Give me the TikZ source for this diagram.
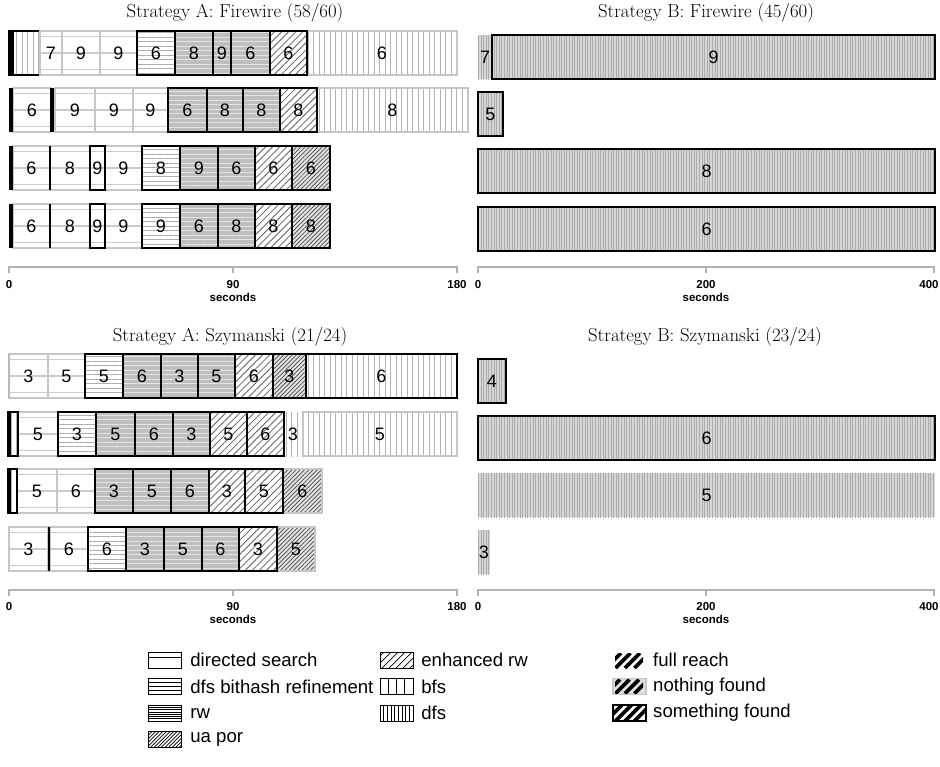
\documentclass[tikz,border=0pt]{standalone}
\usepackage{fontspec}
\newfontfamily\hsans{Liberation Sans}
\usetikzlibrary{patterns,patterns.meta,calc}
\newcounter{cellno}
\tikzset{
  lab/.style={font=\hsans\fontsize{18}{18}\selectfont, inner sep=0pt},
  ttl/.style={font=\fontsize{18.8}{21}\selectfont, inner sep=0pt},
  tick/.style={font=\hsans\bfseries\fontsize{11.5}{12}\selectfont, inner sep=0pt},
  legtext/.style={font=\hsans\fontsize{18.6}{19}\selectfont, inner sep=0pt, anchor=west},
  axisline/.style={draw=gray!60, line width=1.2pt},
  nf/.style={draw=gray!45, line width=2pt},
  sf/.style={draw=black, line width=2pt},
  fr/.style={draw=none},
  ds/.style={fill=white, path picture={\foreach \f in {0.13,0.5,0.87} \draw[gray!40,line width=1.4pt] ($(path picture bounding box.south west)!\f!(path picture bounding box.north west)$) -- ($(path picture bounding box.south east)!\f!(path picture bounding box.north east)$);}},
  dbr/.style={fill=white, postaction={pattern={Lines[angle=0,distance=4.5pt,line width=0.9pt]}, pattern color=gray!65}},
  rw/.style={fill=gray!50, postaction={pattern={Lines[angle=0,distance=4.5pt,line width=0.8pt]}, pattern color=gray!20}},
  enh/.style={fill=white, postaction={pattern={Lines[angle=45,distance=5pt,line width=0.8pt]}, pattern color=gray!75!black}},
  ua/.style={fill=gray!22, postaction={pattern={Lines[angle=45,distance=3pt,line width=0.7pt]}, pattern color=gray!55!black}},
  bfs/.style={fill=white, postaction={pattern={Lines[angle=90,distance=5.5pt,line width=1pt]}, pattern color=gray!60}},
  dfs/.style={fill=gray!32, postaction={pattern={Lines[angle=90,distance=2.6pt,line width=0.8pt]}, pattern color=gray!65}},
}
% x1, x2, ytop, pattern, label, border
\newcommand\bcell[6]{%
  \path[#4] (#1,#3) rectangle (#2,#3+44);
  \path[#6] (#1,#3) rectangle (#2,#3+44);
  \stepcounter{cellno}%
  \node[lab] (c\arabic{cellno}) at ({(#1+#2)/2},#3+22) {#5};}
\newcommand\blk[3]{\fill[black] (#1,#3) rectangle (#2,#3+44);}
\begin{document}
\begin{tikzpicture}[x=1pt,y=-1pt]
\useasboundingbox (0,0) rectangle (940,766);
% titles
\node[ttl] (t1) at (235,13) {Strategy A: Firewire (58/60)};
\node[ttl] (t2) at (706,13) {Strategy B: Firewire (45/60)};
\node[ttl] (t3) at (230,337) {Strategy A: Szymanski (21/24)};
\node[ttl] (t4) at (705,337) {Strategy B: Szymanski (23/24)};

% ---------- Strategy A Firewire ----------
% row 1
\bcell{9}{40}{31}{bfs}{}{sf}
\blk{9}{14}{31}
\bcell{40}{62}{31}{ds}{7}{nf}
\bcell{62}{100}{31}{ds}{9}{nf}
\bcell{100}{137}{31}{ds}{9}{nf}
\bcell{137}{175}{31}{dbr}{6}{sf}
\bcell{175}{213}{31}{rw}{8}{sf}
\bcell{213}{231}{31}{rw}{9}{sf}
\bcell{231}{270}{31}{rw}{6}{sf}
\bcell{307}{457}{31}{bfs}{6}{nf}
\bcell{270}{307}{31}{enh}{6}{sf}
% row 2
\bcell{13}{51}{88}{ds}{6}{nf}
\blk{9}{13}{88}
\blk{50}{55}{88}
\bcell{55}{95}{88}{ds}{9}{nf}
\bcell{95}{133}{88}{ds}{9}{nf}
\bcell{133}{168}{88}{ds}{9}{nf}
\bcell{168}{207}{88}{rw}{6}{sf}
\bcell{207}{243}{88}{rw}{8}{sf}
\bcell{243}{280}{88}{rw}{8}{sf}
\bcell{317}{468}{88}{bfs}{8}{nf}
\bcell{280}{317}{88}{enh}{8}{sf}
% row 3
\bcell{13}{50}{146}{ds}{6}{nf}
\bcell{50}{90}{146}{ds}{8}{nf}
\blk{9}{13}{146}
\blk{49}{51}{146}
\bcell{105}{142}{146}{ds}{9}{nf}
\bcell{90}{105}{146}{ds}{9}{sf}
\bcell{142}{180}{146}{dbr}{8}{sf}
\bcell{180}{218}{146}{rw}{9}{sf}
\bcell{218}{255}{146}{rw}{6}{sf}
\bcell{255}{292}{146}{enh}{6}{sf}
\bcell{292}{330}{146}{ua}{6}{sf}
% row 4
\bcell{13}{50}{204}{ds}{6}{nf}
\bcell{50}{90}{204}{ds}{8}{nf}
\blk{9}{13}{204}
\blk{49}{51}{204}
\bcell{105}{142}{204}{ds}{9}{nf}
\bcell{90}{105}{204}{ds}{9}{sf}
\bcell{142}{180}{204}{dbr}{9}{sf}
\bcell{180}{218}{204}{rw}{6}{sf}
\bcell{218}{255}{204}{rw}{8}{sf}
\bcell{255}{292}{204}{enh}{8}{sf}
\bcell{292}{330}{204}{ua}{8}{sf}

% ---------- Strategy B Firewire ----------
\bcell{478}{492}{35}{dfs}{7}{fr}
\bcell{492}{935}{35}{dfs}{9}{sf}
\bcell{478}{503}{92}{dfs}{5}{sf}
\bcell{478}{935}{149}{dfs}{8}{sf}
\bcell{478}{935}{207}{dfs}{6}{sf}

% axes top
\draw[axisline] (9,273) coordinate (a0) -- (9,267) -- (457,267) -- (457,273) coordinate (a2);
\draw[axisline] (233,267) -- (233,273) coordinate (a1);
\node[tick] (l0) at (9,285) {0};
\node[tick] (l90) at (233,285) {90};
\node[tick] (l180) at (457,285) {180};
\node[tick] (ls1) at (233,297) {seconds};
\draw[axisline] (478,273) -- (478,267) -- (934,267) -- (934,273);
\draw[axisline] (706,267) -- (706,273);
\node[tick] (r0) at (478,285) {0};
\node[tick] (r200) at (706,285) {200};
\node[tick] (r400) at (929,285) {400};
\node[tick] (ls2) at (706,297) {seconds};

% ---------- Strategy A Szymanski ----------
% row 1
\bcell{9}{48}{354}{ds}{3}{nf}
\bcell{48}{85}{354}{ds}{5}{nf}
\fill[gray!55] (8,354) rectangle (10,398);
\bcell{85}{123}{354}{dbr}{5}{sf}
\bcell{123}{161}{354}{rw}{6}{sf}
\bcell{161}{198}{354}{rw}{3}{sf}
\bcell{198}{235}{354}{rw}{5}{sf}
\bcell{235}{273}{354}{enh}{6}{sf}
\bcell{273}{306}{354}{ua}{3}{sf}
\bcell{306}{457}{354}{bfs}{6}{sf}
% row 2
\bcell{18}{58}{412}{ds}{5}{nf}
\bcell{8}{18}{412}{bfs}{}{sf}
\blk{8}{11}{412}
\bcell{58}{96}{412}{dbr}{3}{sf}
\bcell{96}{135}{412}{rw}{5}{sf}
\bcell{135}{173}{412}{rw}{6}{sf}
\bcell{173}{210}{412}{rw}{3}{sf}
\bcell{210}{247}{412}{enh}{5}{sf}
\bcell{247}{284}{412}{enh}{6}{sf}
\bcell{285}{301}{412}{bfs}{3}{fr}
\bcell{303}{457}{412}{bfs}{5}{nf}
% row 3
\bcell{17}{57}{469}{ds}{5}{nf}
\bcell{57}{95}{469}{ds}{6}{nf}
\bcell{8}{17}{469}{bfs}{}{sf}
\blk{8}{11}{469}
\bcell{95}{133}{469}{rw}{3}{sf}
\bcell{133}{171}{469}{rw}{5}{sf}
\bcell{171}{209}{469}{rw}{6}{sf}
\bcell{283}{322}{469}{ua}{6}{nf}
\bcell{209}{245}{469}{enh}{3}{sf}
\bcell{245}{283}{469}{enh}{5}{sf}
% row 4
\bcell{9}{48}{527}{ds}{3}{nf}
\bcell{50}{88}{527}{ds}{6}{nf}
\blk{48}{50}{527}
\bcell{88}{126}{527}{dbr}{6}{sf}
\bcell{126}{164}{527}{rw}{3}{sf}
\bcell{164}{202}{527}{rw}{5}{sf}
\bcell{202}{239}{527}{rw}{6}{sf}
\bcell{277}{315}{527}{ua}{5}{nf}
\bcell{239}{277}{527}{enh}{3}{sf}

% ---------- Strategy B Szymanski ----------
\bcell{478}{506}{359}{dfs}{4}{sf}
\bcell{478}{935}{416}{dfs}{6}{sf}
\bcell{478}{935}{473}{dfs}{5}{fr}
\bcell{478}{490}{530}{dfs}{3}{fr}

% axes bottom
\draw[axisline] (9,596) -- (9,590) -- (457,590) -- (457,596);
\draw[axisline] (233,590) -- (233,596);
\node[tick] (bl0) at (9,607) {0};
\node[tick] (bl90) at (233,607) {90};
\node[tick] (bl180) at (457,607) {180};
\node[tick] (bls1) at (233,619) {seconds};
\draw[axisline] (478,596) -- (478,590) -- (934,590) -- (934,596);
\draw[axisline] (706,590) -- (706,596);
\node[tick] (br0) at (478,607) {0};
\node[tick] (br200) at (706,607) {200};
\node[tick] (br400) at (929,607) {400};
\node[tick] (bls2) at (706,619) {seconds};

% ---------- legend ----------
\begin{scope}[line width=0.8pt]
% directed search
\draw (148,652) rectangle (181,668); \draw (148,657) -- (181,657);
\node[legtext] (g1) at (190,660) {directed search};
% dfs bithash refinement
\draw (148,678.5) rectangle (181,694.5);
\foreach \yy in {682.5,686.5,690.5} \draw (148,\yy) -- (181,\yy);
\node[legtext] (g2) at (190,686.5) {dfs bithash refinement};
% rw
\draw (148,705) rectangle (181,721);
\foreach \yy in {707.3,709.6,711.9,714.2,716.5,718.8} \draw[line width=0.7pt] (148,\yy) -- (181,\yy);
\node[legtext] (g3) at (190,713) {rw};
% ua por
\begin{scope}
\clip (148,731.5) rectangle (181,747.5);
\foreach \k in {0,...,16} \draw[line width=0.7pt] (136+\k*3.6,747.5) -- ++(18,-18);
\end{scope}
\draw (148,731.5) rectangle (181,747.5);
\node[legtext] (g4) at (190,739.5) {ua por};
% enhanced rw
\begin{scope}
\clip (380,652) rectangle (413,668);
\foreach \k in {0,...,6} \draw[line width=0.7pt] (368+\k*7,668) -- ++(18,-18);
\end{scope}
\draw (380,652) rectangle (413,668);
\node[legtext] (g5) at (421,660) {enhanced rw};
% bfs
\draw (380,678.5) rectangle (413,694.5);
\foreach \xx in {388.25,396.5,404.75} \draw (\xx,678.5) -- (\xx,694.5);
\node[legtext] (g6) at (421,686.5) {bfs};
% dfs
\draw (380,705) rectangle (413,721);
\foreach \k in {1,...,8} \draw[line width=0.7pt] (380+\k*3.67,705) -- (380+\k*3.67,721);
\node[legtext] (g7) at (421,713) {dfs};
\end{scope}
% full reach
\begin{scope}
\clip (615,653) rectangle (643,668);
\foreach \k in {0,...,3} \draw[line width=3.6pt] (606+\k*9.5,668) -- ++(15,-15);
\end{scope}
\node[legtext] (g8) at (653,660) {full reach};
% nothing found
\fill[gray!25] (613,678.5) rectangle (646,694.5);
\begin{scope}
\clip (615,679.5) rectangle (643,693.5);
\foreach \k in {0,...,3} \draw[line width=3.6pt] (606+\k*9.5,693.5) -- ++(14,-14);
\end{scope}
\draw[gray!45, line width=1.6pt] (613,678.5) rectangle (646,694.5);
\node[legtext] (g9) at (653,686.5) {nothing found};
% something found
\begin{scope}
\clip (613,705) rectangle (646,721);
\foreach \k in {0,...,3} \draw[line width=3.6pt] (606+\k*9.5,721) -- ++(16,-16);
\end{scope}
\draw[black, line width=1.6pt] (613,705) rectangle (646,721);
\node[legtext] (g10) at (653,713) {something found};
\end{tikzpicture}
\end{document}
